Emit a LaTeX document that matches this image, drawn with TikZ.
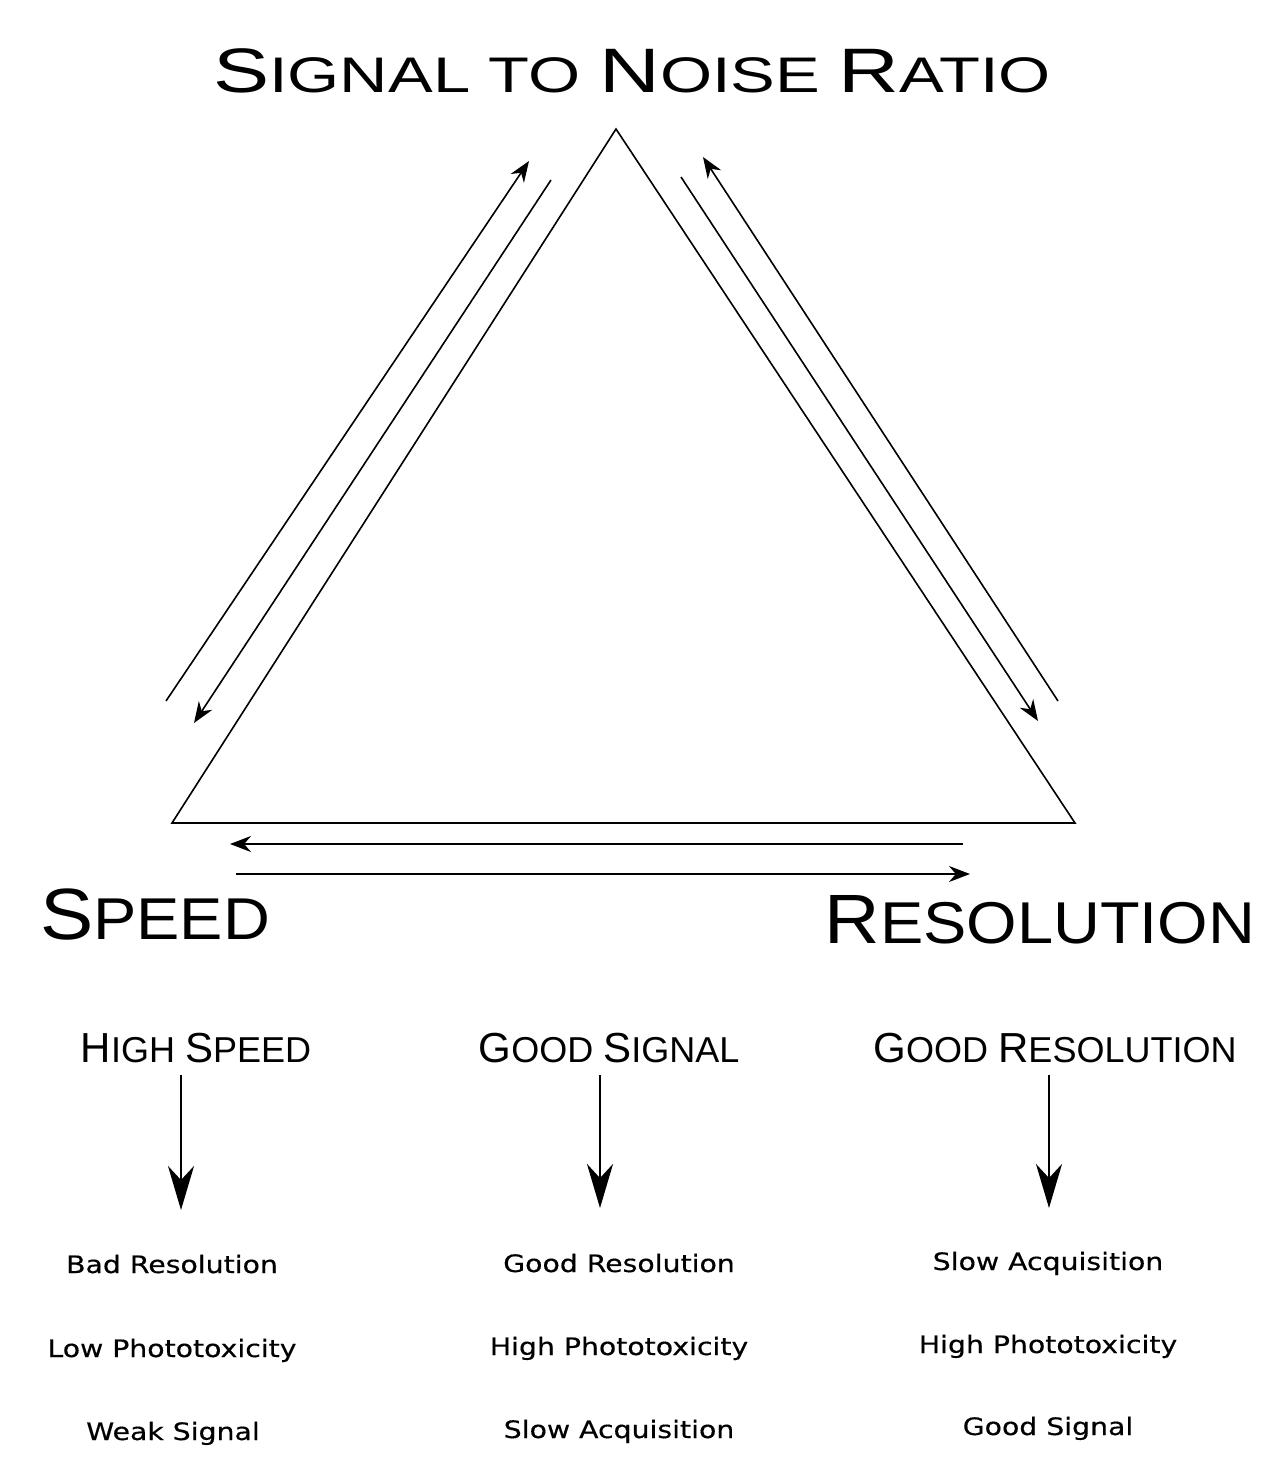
\documentclass[tikz,border=0pt]{standalone}
\usepackage{fontspec}
\usetikzlibrary{arrows.meta}
\setmainfont{DejaVu Sans}
\newfontfamily\titlefont[FakeStretch=1.34]{Liberation Sans}
\newfontfamily\headfont[FakeStretch=1.1]{Liberation Sans}
\newfontfamily\subfont{Liberation Sans}
\newfontfamily\listfont[FakeStretch=1.18, FakeBold=0.4]{DejaVu Sans}
% first letter of a word set larger, like small caps
\newcommand{\firstcap}[2]{{\fontsize{#1pt}{#1pt}\selectfont #2}}

\begin{document}
\begin{tikzpicture}[x=0.5pt, y=-0.5pt]
            \useasboundingbox (0,0) rectangle (1263,1467);
            \tikzset{
                titletext/.style = {font=\titlefont\fontsize{25}{25}\selectfont, inner sep=0pt},
                cornertext/.style = {font=\headfont\fontsize{29.5}{29.5}\selectfont, inner sep=0pt},
                subtext/.style = {font=\subfont\fontsize{18}{18}\selectfont, inner sep=0pt},
                listtext/.style = {font=\listfont\fontsize{12}{12}\selectfont, anchor=base, inner sep=0pt},
                thin arrow/.style = {line width=0.8pt, -{Stealth[length=10.5pt, width=8pt]}},
                down arrow/.style = {line width=1.3pt, -{Stealth[length=22pt, width=13pt, inset=7pt]}}
            }
            {
                \node[titletext] (snr) at (632,71) {\firstcap{31.4}{S}IGNAL TO \firstcap{31.4}{N}OISE \firstcap{31.4}{R}ATIO};
                \node[cornertext] (spd) at (155,914) {\firstcap{36.3}{S}PEED};
                \node[cornertext] (res) at (1040,920) {\firstcap{34.9}{R}ESOLUTION};

                \node[subtext] (hs) at (196,1048) {\firstcap{21}{H}IGH \firstcap{21}{S}PEED};
                \node[subtext] (gs) at (609,1048) {\firstcap{21}{G}OOD \firstcap{21}{S}IGNAL};
                \node[subtext] (gr) at (1055,1048) {\firstcap{21}{G}OOD \firstcap{21}{R}ESOLUTION};

                \node[listtext] (hs1) at (172,1273) {Bad Resolution};
                \node[listtext] (hs2) at (172,1357) {Low Phototoxicity};
                \node[listtext] (hs3) at (173,1440) {Weak Signal};

                \node[listtext] (gs1) at (619,1272) {Good Resolution};
                \node[listtext] (gs2) at (619,1355) {High Phototoxicity};
                \node[listtext] (gs3) at (619,1438) {Slow Acquisition};

                \node[listtext] (gr1) at (1048,1270) {Slow Acquisition};
                \node[listtext] (gr2) at (1048,1353) {High Phototoxicity};
                \node[listtext] (gr3) at (1048,1435) {Good Signal};
            }

            % triangle corners
            \coordinate (top) at (616,129);
            \coordinate (left) at (172,823);
            \coordinate (right) at (1075,823);
            \draw[line width=0.8pt] (top) -- (left) -- (right) -- cycle;

            % arrows along the sides
            \coordinate (lo1) at (166,701);
            \coordinate (lo2) at (529,161);
            \coordinate (li1) at (551,180);
            \coordinate (li2) at (194,723);
            \coordinate (ri1) at (681,177);
            \coordinate (ri2) at (1038,721);
            \coordinate (ro1) at (1058,701);
            \coordinate (ro2) at (703,157);
            \coordinate (bu1) at (963,844);
            \coordinate (bu2) at (230,844);
            \coordinate (bl1) at (236,874);
            \coordinate (bl2) at (970,874);

            \draw[thin arrow] (lo1) -- (lo2);
            \draw[thin arrow] (li1) -- (li2);
            \draw[thin arrow] (ri1) -- (ri2);
            \draw[thin arrow] (ro1) -- (ro2);
            \draw[thin arrow] (bu1) -- (bu2);
            \draw[thin arrow] (bl1) -- (bl2);

            % arrows under the headings
            \coordinate (hsa) at (181,1075);
            \coordinate (hsb) at (181,1210);
            \coordinate (gsa) at (600,1075);
            \coordinate (gsb) at (600,1208);
            \coordinate (gra) at (1049,1075);
            \coordinate (grb) at (1049,1208);

            \draw[down arrow] (hsa) -- (hsb);
            \draw[down arrow] (gsa) -- (gsb);
            \draw[down arrow] (gra) -- (grb);

        \end{tikzpicture}
\end{document}
